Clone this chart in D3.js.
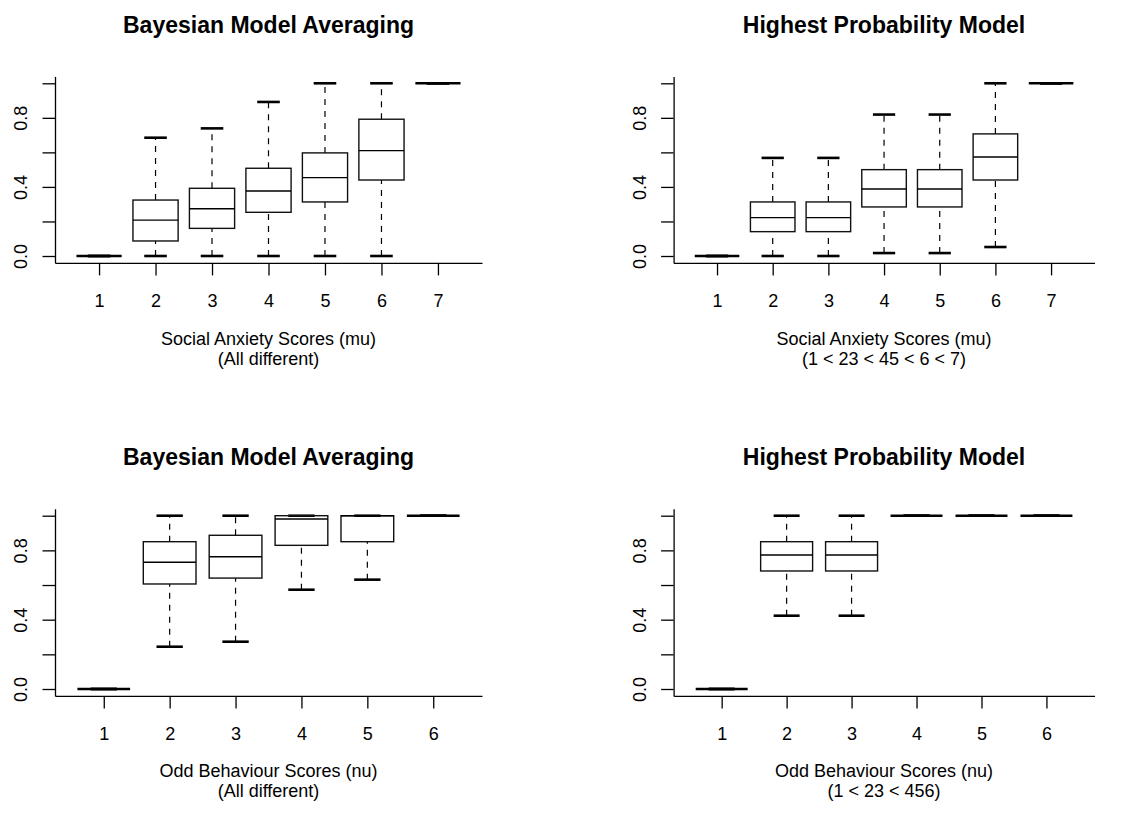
<!DOCTYPE html>
<html>
<head>
<meta charset="utf-8">
<script src="https://cdn.jsdelivr.net/npm/d3@7"></script>
<style>
  html, body { margin: 0; padding: 0; background: #fff; }
  svg { display: block; }
  text { font-family: "Liberation Sans", Arial, Helvetica, sans-serif; fill: #000; }
</style>
</head>
<body>
<svg id="chart" width="1138" height="832"></svg>
<script>
// ---------- data ----------
const muCategories = [1, 2, 3, 4, 5, 6, 7];
const nuCategories = [1, 2, 3, 4, 5, 6];
const yTickValues = [0, 0.2, 0.4, 0.6, 0.8, 1.0];
const yTickLabels = ["0.0", "", "0.4", "", "0.8", ""];

// Panel A: Bayesian Model Averaging, mu
const muBmaLow  = [0, 0,     0,     0,     0,     0,     1];
const muBmaQ1   = [0, 0.087, 0.160, 0.253, 0.313, 0.440, 1];
const muBmaMed  = [0, 0.208, 0.274, 0.376, 0.454, 0.610, 1];
const muBmaQ3   = [0, 0.324, 0.392, 0.508, 0.597, 0.792, 1];
const muBmaHigh = [0, 0.685, 0.739, 0.892, 1.0,   1.0,   1];

// Panel B: Highest Probability Model, mu
const muHpmLow  = [0, 0,     0,     0.017, 0.017, 0.052, 1];
const muHpmQ1   = [0, 0.141, 0.141, 0.284, 0.284, 0.440, 1];
const muHpmMed  = [0, 0.222, 0.222, 0.388, 0.388, 0.573, 1];
const muHpmQ3   = [0, 0.313, 0.313, 0.500, 0.500, 0.707, 1];
const muHpmHigh = [0, 0.568, 0.568, 0.819, 0.819, 1.0,   1];

// Panel C: Bayesian Model Averaging, nu
const nuBmaLow  = [0, 0.244, 0.273, 0.573, 0.631, 1];
const nuBmaQ1   = [0, 0.606, 0.640, 0.829, 0.850, 1];
const nuBmaMed  = [0, 0.731, 0.763, 0.981, 1.0,   1];
const nuBmaQ3   = [0, 0.850, 0.887, 1.0,   1.0,   1];
const nuBmaHigh = [0, 1.0,   1.0,   1.0,   1.0,   1];

// Panel D: Highest Probability Model, nu
const nuHpmLow  = [0, 0.423, 0.423, 1, 1, 1];
const nuHpmQ1   = [0, 0.681, 0.681, 1, 1, 1];
const nuHpmMed  = [0, 0.773, 0.773, 1, 1, 1];
const nuHpmQ3   = [0, 0.850, 0.850, 1, 1, 1];
const nuHpmHigh = [0, 1.0,   1.0,   1, 1, 1];

const titles = ["Bayesian Model Averaging", "Highest Probability Model",
                "Bayesian Model Averaging", "Highest Probability Model"];
const xLabels1 = ["Social Anxiety Scores (mu)", "Social Anxiety Scores (mu)",
                  "Odd Behaviour Scores (nu)", "Odd Behaviour Scores (nu)"];
const xLabels2 = ["(All different)", "(1 < 23 < 45 < 6 < 7)",
                  "(All different)", "(1 < 23 < 456)"];

// ---------- layout ----------
const svg = d3.select("#chart");
const colX = [[55, 482], [673.6, 1094.5]];
const rowY = [[256, 83.3], [689, 515.7]];   // pixel of value 0 and value 1
const rowShift = 431.5;
const fontSize = 18, titleSize = 23;
const tickLen = 12.5;

const panels = [
  {cats: muCategories, low: muBmaLow, q1: muBmaQ1, med: muBmaMed, q3: muBmaQ3, high: muBmaHigh, col: 0, row: 0},
  {cats: muCategories, low: muHpmLow, q1: muHpmQ1, med: muHpmMed, q3: muHpmQ3, high: muHpmHigh, col: 1, row: 0},
  {cats: nuCategories, low: nuBmaLow, q1: nuBmaQ1, med: nuBmaMed, q3: nuBmaQ3, high: nuBmaHigh, col: 0, row: 1},
  {cats: nuCategories, low: nuHpmLow, q1: nuHpmQ1, med: nuHpmMed, q3: nuHpmQ3, high: nuHpmHigh, col: 1, row: 1}
];

panels.forEach((p, i) => {
  const n = p.cats.length;
  const ext = 0.04 * n;
  const [x0, x1] = colX[p.col];
  const [y0px, y1px] = rowY[p.row];
  const yOff = p.row * rowShift;
  const unit = y0px - y1px;
  const x = d3.scaleLinear().domain([0.5 - ext, n + 0.5 + ext]).range([x0, x1]);
  const y = d3.scaleLinear().domain([-0.04, 1.04])
      .range([y0px + 0.04 * unit, y1px - 0.04 * unit]);
  const g = svg.append("g");
  const axisY = y(-0.04);

  // x axis (domain line = bottom of L frame)
  const xa = g.append("g").attr("transform", `translate(0,${axisY})`)
    .call(d3.axisBottom(x).tickValues(p.cats).tickFormat(d3.format("d"))
      .tickSize(tickLen).tickSizeOuter(0));
  xa.attr("font-family", null).attr("font-size", null);
  xa.selectAll("path.domain").attr("stroke", "#000").attr("stroke-width", 1.3);
  xa.selectAll(".tick line").attr("stroke", "#000").attr("stroke-width", 1.3);
  xa.selectAll(".tick text").attr("y", 306.5 - 262.9).attr("dy", 0)
    .style("font-size", fontSize + "px").attr("fill", "#000");

  // y axis (domain line = left of L frame)
  const ya = g.append("g").attr("transform", `translate(${x0},0)`)
    .call(d3.axisLeft(y).tickValues(yTickValues)
      .tickFormat((d, j) => yTickLabels[j]).tickSize(tickLen).tickSizeOuter(0));
  ya.attr("font-family", null).attr("font-size", null);
  ya.selectAll("path.domain").attr("stroke", "#000").attr("stroke-width", 1.3);
  ya.selectAll(".tick line").attr("stroke", "#000").attr("stroke-width", 1.3);
  ya.selectAll(".tick text")
    .attr("x", 0).attr("dy", 0)
    .attr("transform", "translate(-28,0) rotate(-90)")
    .attr("text-anchor", "middle")
    .style("font-size", fontSize + "px").attr("fill", "#000");

  // boxes
  const bw = 0.8, sw = 0.4;
  p.cats.forEach((c, k) => {
    const cx = x(c);
    const hw = (x(c + bw / 2) - x(c - bw / 2)) / 2;
    const sh = (x(c + sw / 2) - x(c - sw / 2)) / 2;
    // whiskers
    [[p.low[k], p.q1[k]], [p.q3[k], p.high[k]]].forEach(([a, b]) => {
      if (b > a) {
        g.append("line").attr("x1", cx).attr("x2", cx)
          .attr("y1", y(a)).attr("y2", y(b))
          .attr("stroke", "#000").attr("stroke-width", 1.2)
          .attr("stroke-dasharray", "6,6");
      }
    });
    // staples
    [p.low[k], p.high[k]].forEach(v => {
      g.append("line").attr("x1", cx - sh).attr("x2", cx + sh)
        .attr("y1", y(v)).attr("y2", y(v))
        .attr("stroke", "#000").attr("stroke-width", 2.6);
    });
    // box
    g.append("rect").attr("x", cx - hw).attr("width", 2 * hw)
      .attr("y", y(p.q3[k])).attr("height", Math.max(0, y(p.q1[k]) - y(p.q3[k])))
      .attr("fill", "none").attr("stroke", "#111").attr("stroke-width", 1.4);
    // median
    const degenerate = p.q1[k] === p.q3[k];
    g.append("line").attr("x1", cx - hw).attr("x2", cx + hw)
      .attr("y1", y(p.med[k])).attr("y2", y(p.med[k]))
      .attr("stroke", "#000").attr("stroke-width", degenerate ? 2.6 : 1.4);
  });

  // titles and labels
  const cxp = (x0 + x1) / 2;
  g.append("text").attr("x", cxp).attr("y", 33 + yOff)
    .attr("text-anchor", "middle").style("font-size", titleSize + "px")
    .style("font-weight", "bold").text(titles[i]);
  g.append("text").attr("x", cxp).attr("y", 345 + yOff)
    .attr("text-anchor", "middle").style("font-size", fontSize + "px").text(xLabels1[i]);
  g.append("text").attr("x", cxp).attr("y", 365 + yOff)
    .attr("text-anchor", "middle").style("font-size", fontSize + "px").text(xLabels2[i]);
});
</script>
</body>
</html>
